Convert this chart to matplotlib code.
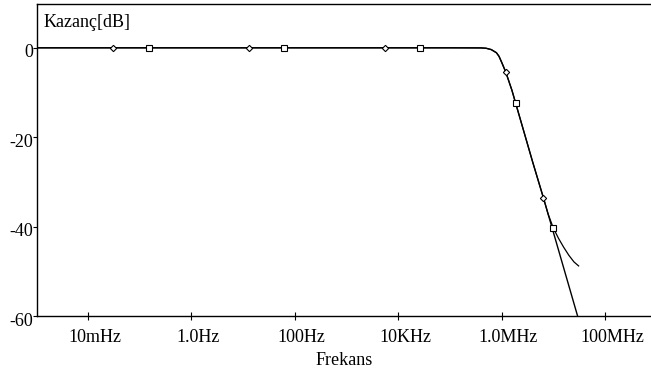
import matplotlib
matplotlib.use("Agg")
import matplotlib.pyplot as plt
import matplotlib.transforms as mtrans

# values (frequency in Hz, gain in dB)
freq_a = [1e-3, 1e5, 10**5.6, 10**5.7, 10**5.8, 10**5.9, 10**5.95, 10**6.0,
          10**6.08, 10**6.2, 10**6.27, 10**6.4, 10**6.6, 10**6.81, 10**7.0, 10**7.5]
gain_a = [0, 0, -0.02, -0.1, -0.4, -1.1, -1.9, -3.2,
          -5.4, -9.5, -12.3, -17.5, -25.5, -33.6, -41.2, -61.2]

freq_b = [1e-3, 1e5, 10**5.6, 10**5.7, 10**5.8, 10**5.9, 10**5.95, 10**6.0,
          10**6.08, 10**6.2, 10**6.27, 10**6.4, 10**6.6, 10**6.81, 10**6.9,
          10**7.0, 10**7.1, 10**7.2, 10**7.3, 10**7.4, 10**7.49]
gain_b = [0, 0, -0.02, -0.1, -0.4, -1.1, -1.9, -3.2,
          -5.4, -9.5, -12.3, -17.5, -25.5, -33.6, -37.2,
          -40.3, -42.6, -44.6, -46.4, -47.9, -48.8]

mark_a_f = [10**-1.52, 10**1.11, 10**3.74, 10**6.08, 10**6.81]
mark_a_g = [0, 0, 0, -5.4, -33.6]
mark_b_f = [10**-0.82, 10**1.79, 10**4.42, 10**6.27, 10**7.0]
mark_b_g = [0, 0, 0, -12.3, -40.3]

xtick_vals = [1e-2, 1, 1e2, 1e4, 1e6, 1e8]
xtick_labels = ["10mHz", "1.0Hz", "100Hz", "10KHz", "1.0MHz", "100MHz"]
ytick_vals = [0, -20, -40, -60]

plt.rcParams["font.family"] = ["Liberation Serif", "DejaVu Serif"]
plt.rcParams["font.size"] = 13

W, H = 651, 370
fig = plt.figure(figsize=(W / 100, H / 100), dpi=100)
ax = fig.add_axes([37 / W, (H - 316) / H, (W - 37) / W, (316 - 4) / H])

ax.plot(freq_a, gain_a, color="black", lw=1.0)
ax.plot(freq_b, gain_b, color="black", lw=0.9)
ax.plot(mark_a_f, mark_a_g, ls="none", marker="D", ms=3.2, mfc="white",
        mec="black", mew=0.8)
ax.plot(mark_b_f, mark_b_g, ls="none", marker="s", ms=4.8, mfc="white",
        mec="black", mew=0.8)

ax.set_xscale("log")
ax.set_xlim(10**-2.986, 10**8.89)
ax.set_ylim(-60, 9.8)
ax.set_xticks(xtick_vals)
ax.set_xticklabels(xtick_labels)
ax.minorticks_off()
ax.set_yticks(ytick_vals)
ax.set_yticklabels([str(v) for v in ytick_vals])
ax.tick_params(axis="x", direction="inout", length=6, width=0.8, pad=6)
ax.tick_params(axis="y", direction="out", length=3, width=0.8, pad=0)

# tick labels in the reference are nudged off their ticks
yshift = mtrans.ScaledTranslation(0, -3 / 100, fig.dpi_scale_trans)
for lab in ax.get_yticklabels():
    lab.set_transform(lab.get_transform() + yshift)
xshift = mtrans.ScaledTranslation(7 / 100, 0, fig.dpi_scale_trans)
for lab in ax.get_xticklabels():
    lab.set_transform(lab.get_transform() + xshift)

ax.spines["right"].set_visible(False)
for s in ["left", "bottom", "top"]:
    ax.spines[s].set_linewidth(1.0)

ax.text(0.01, 0.94, "Kazanç[dB]", transform=ax.transAxes, ha="left", va="center")
ax.set_xlabel("Frekans", labelpad=5)

fig.savefig("out.png", dpi=100)
